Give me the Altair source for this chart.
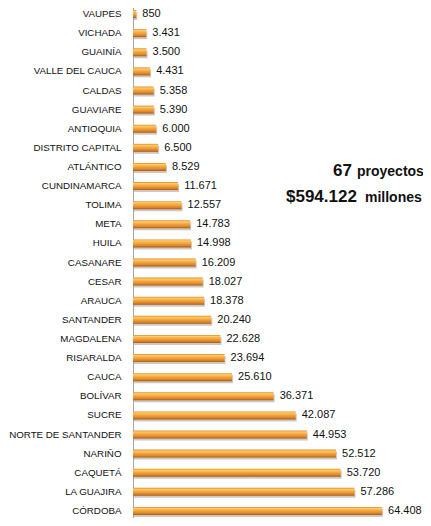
import altair as alt
import pandas as pd

departamentos = [
    "VAUPES", "VICHADA", "GUAINÍA", "VALLE DEL CAUCA", "CALDAS", "GUAVIARE",
    "ANTIOQUIA", "DISTRITO CAPITAL", "ATLÁNTICO", "CUNDINAMARCA", "TOLIMA",
    "META", "HUILA", "CASANARE", "CESAR", "ARAUCA", "SANTANDER", "MAGDALENA",
    "RISARALDA", "CAUCA", "BOLÍVAR", "SUCRE", "NORTE DE SANTANDER", "NARIÑO",
    "CAQUETÁ", "LA GUAJIRA", "CÓRDOBA",
]
valores = [
    850, 3431, 3500, 4431, 5358, 5390, 6000, 6500, 8529, 11671, 12557,
    14783, 14998, 16209, 18027, 18378, 20240, 22628, 23694, 25610, 36371,
    42087, 44953, 52512, 53720, 57286, 64408,
]

anot_texto = ["67", "proyectos", "$594.122", "millones"]
anot_px_x = [333, 357, 286, 365]
anot_px_y = [176, 176, 202, 202]
anot_tam = [17, 14, 17, 14]

df = pd.DataFrame({"dep": departamentos, "val": valores})
anot = pd.DataFrame({"t": anot_texto, "px": anot_px_x, "py": anot_px_y, "s": anot_tam})

FONT = "Liberation Sans, Arial, sans-serif"

y_enc = alt.Y(
    "dep:N",
    sort=departamentos,
    scale=alt.Scale(domain=departamentos, range=[-3.5, 512.5], paddingInner=0, paddingOuter=0),
    axis=alt.Axis(
        title=None, ticks=False, labelPadding=12, labelFont=FONT, labelFontSize=9.75,
        labelColor="#111111", domainColor="#A6A6A6", domainWidth=1, labelLimit=130,
        grid=False,
    ),
)
x_enc = alt.X("val:Q", scale=alt.Scale(domain=[0, 75000], nice=False), axis=None)

base = alt.Chart(df)

shadow = base.mark_bar(size=8, color="#BEB6AC", opacity=0.75, xOffset=1, yOffset=2).encode(
    x=x_enc, y=y_enc
)

grad = alt.Gradient(
    gradient="linear",
    x1=0, y1=0, x2=0, y2=1,
    stops=[
        alt.GradientStop(offset=0, color="#D98A30"),
        alt.GradientStop(offset=0.18, color="#FFCB66"),
        alt.GradientStop(offset=0.45, color="#F5A840"),
        alt.GradientStop(offset=0.78, color="#DD852C"),
        alt.GradientStop(offset=1, color="#A35A1A"),
    ],
)
bars = base.mark_bar(size=8, color=grad).encode(x=x_enc, y=y_enc)

labels = base.transform_calculate(
    lab="replace(format(datum.val, ','), /,/g, '.')"
).mark_text(
    align="left", baseline="middle", dx=6, font=FONT, fontSize=11, color="#111111"
).encode(x=x_enc, y=y_enc, text="lab:N")

ann_layers = []
for i in range(len(anot_texto)):
    ann_layers.append(
        alt.Chart(anot.iloc[[i]]).mark_text(
            align="left", baseline="alphabetic", font=FONT, fontWeight="bold",
            fontSize=int(anot_tam[i]), color="#111111",
        ).encode(
            x=alt.value(int(anot_px_x[i]) - 133),
            y=alt.value(int(anot_px_y[i]) - 8),
            text="t:N",
        )
    )

chart = alt.layer(shadow, bars, labels, *ann_layers).properties(
    width=290,
    height=510,
    autosize=alt.AutoSizeParams(type="none"),
    padding={"left": 125, "top": 0, "right": 0, "bottom": 0},
).configure_view(stroke=None)

chart.save("out.html", embed_options={"renderer": "svg", "actions": False})
